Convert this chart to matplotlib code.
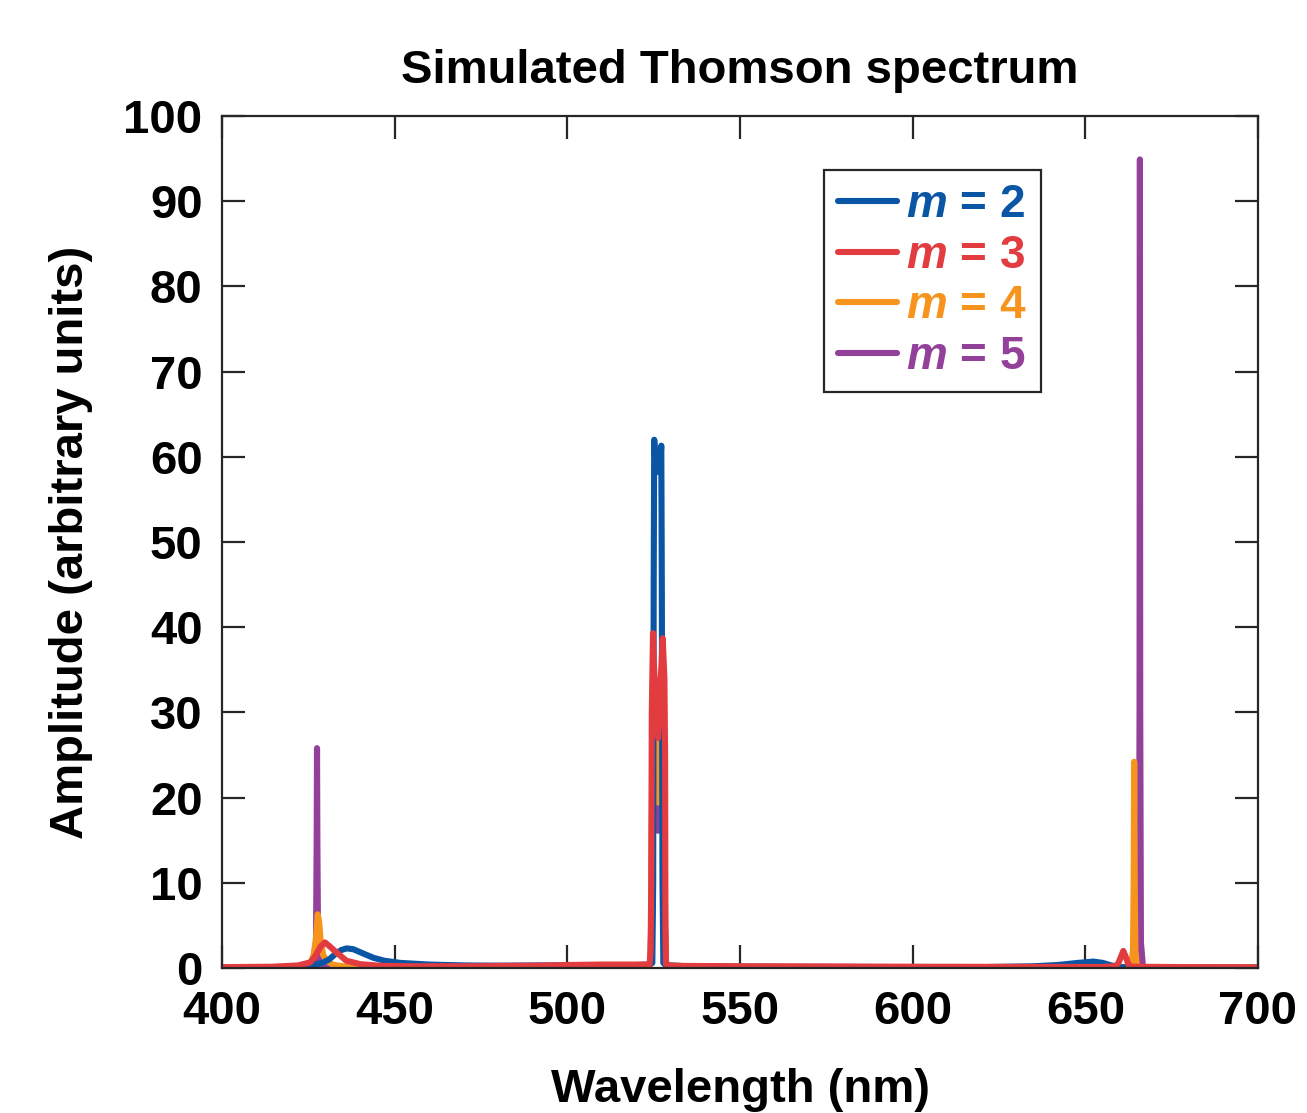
import matplotlib
matplotlib.use('Agg')
import matplotlib.pyplot as plt

plt.rcParams['font.family'] = ['Liberation Sans', 'DejaVu Sans']
plt.rcParams['font.weight'] = 'bold'
plt.rcParams['axes.labelweight'] = 'bold'
plt.rcParams['axes.titleweight'] = 'bold'
plt.rcParams['mathtext.fontset'] = 'custom'
plt.rcParams['mathtext.it'] = 'Liberation Sans:italic:bold'
plt.rcParams['mathtext.rm'] = 'Liberation Sans'

# spectra: wavelength (nm) and amplitude (arb. units)
wl_m2 = [400, 410, 420, 426, 429, 431, 432.7, 434.5, 436.1, 438, 440, 443.8,
         447, 451.5, 460, 470, 480, 500, 510, 520, 523.5, 524.6, 524.85,
         525.0, 525.15, 525.4, 526.2, 527.0, 527.2, 527.35, 527.55, 527.8,
         528.5, 535, 550, 600, 620, 635, 642, 648, 652.3, 655, 657.5, 660,
         670, 700]
amp_m2 = [0.05, 0.08, 0.15, 0.3, 0.6, 1.0, 1.6, 2.1, 2.3, 2.2, 1.85, 1.2,
          0.85, 0.6, 0.4, 0.3, 0.25, 0.25, 0.3, 0.35, 0.4, 0.6, 10,
          45, 62.0, 60, 58.2, 60, 61.3, 45, 10, 0.6,
          0.3, 0.2, 0.15, 0.1, 0.1, 0.2, 0.35, 0.6, 0.75, 0.6, 0.3, 0.1,
          0.05, 0.02]

wl_m3 = [400, 415, 422, 425.5, 427, 428.5, 429.8, 431, 433.2, 436, 440, 446,
         455, 470, 490, 500, 510, 520, 523.8, 524.1, 524.3, 524.45, 524.8,
         525.0, 526.26, 527.3, 527.6, 528.1, 528.3, 528.4, 528.55, 530, 550,
         600, 640, 655, 658.5, 659.5, 660.3, 661.0, 661.7, 662.5, 663.5,
         680, 700]
amp_m3 = [0.1, 0.15, 0.3, 0.65, 1.4, 2.5, 3.0, 2.6, 1.8, 0.85, 0.45, 0.25,
          0.2, 0.2, 0.25, 0.35, 0.4, 0.4, 0.4, 2, 10, 30, 39.3,
          36, 27.0, 36, 38.7, 34, 25, 5, 0.4, 0.25, 0.2,
          0.15, 0.12, 0.12, 0.2, 0.5, 1.3, 2.0, 1.3, 0.4, 0.15,
          0.1, 0.08]

wl_m4 = [400, 420, 424, 425.5, 426.5, 427.2, 427.7, 428.1, 428.6, 429.3,
         430.5, 432, 435, 440, 480, 505, 520, 524.0, 524.3, 524.5, 525.0,
         526.25, 527.5, 528.1, 528.3, 528.6, 540, 600, 655, 663.2, 663.8,
         664.0, 664.15, 664.3, 664.5, 665, 680, 700]
amp_m4 = [0.05, 0.08, 0.1, 0.4, 1.5, 3.5, 6.3, 5.5, 3.0, 1.5,
          0.8, 0.4, 0.2, 0.15, 0.15, 0.25, 0.3, 0.3, 5, 20, 30,
          19.4, 30, 20, 5, 0.3, 0.15, 0.1, 0.1, 0.1, 2,
          10, 24.2, 10, 2, 0.1, 0.05, 0.05]

wl_m5 = [400, 420, 426.0, 426.8, 427.2, 427.4, 427.5, 427.6, 427.8, 428.2,
         429, 450, 490, 505, 520, 524.0, 524.3, 524.5, 525.0, 526.25, 527.5,
         528.1, 528.3, 528.6, 540, 600, 660, 664.9, 665.5, 665.7, 665.8,
         665.9, 666.1, 666.7, 680, 700]
amp_m5 = [0.05, 0.08, 0.1, 0.4, 3, 15, 25.8, 15, 3, 0.4,
          0.1, 0.15, 0.3, 0.3, 0.3, 0.3, 5, 18, 26, 16.1, 26,
          18, 5, 0.3, 0.1, 0.08, 0.08, 0.1, 3, 30, 94.9,
          30, 3, 0.1, 0.05, 0.05]

series = [(wl_m2, amp_m2, '#0B55A5', 3, r'$m$ = 2'),
          (wl_m3, amp_m3, '#E23B40', 4, r'$m$ = 3'),
          (wl_m4, amp_m4, '#F7941D', 2, r'$m$ = 4'),
          (wl_m5, amp_m5, '#93409A', 1, r'$m$ = 5')]

fig = plt.figure(figsize=(13.07, 11.13), dpi=100)
ax = fig.add_axes([0.1699, 0.1303, 0.7926, 0.7655])

for wl, amp, col, z, lab in series:
    ax.plot(wl, amp, color=col, lw=4.4, zorder=z, label=lab,
            solid_joinstyle='round', solid_capstyle='round')

ax.set_xlim(400, 700)
ax.set_ylim(0, 100)
ax.set_xticks(range(400, 701, 50))
ax.set_yticks(range(0, 101, 10))
ax.tick_params(direction='in', length=16.5, width=1.6, top=True, right=True,
               labelsize=34, pad=14, color='#262626')
ax.tick_params(axis='x', pad=16)
for sp in ax.spines.values():
    sp.set_linewidth(1.6)
    sp.set_color('#262626')
    sp.set_zorder(10)

ax.set_xlabel('Wavelength (nm)', fontsize=34, labelpad=24)
ax.set_ylabel('Amplitude (arbitrary units)', fontsize=34, labelpad=22)
ax.set_title('Simulated Thomson spectrum', fontsize=34, pad=24)

leg = ax.legend(loc='upper left', bbox_to_anchor=(0.581, 0.937), fontsize=33,
                handlelength=1.3, handletextpad=0.2, labelspacing=0.14,
                borderpad=0.3, borderaxespad=0, fancybox=False,
                edgecolor='#262626', framealpha=1)
leg.get_frame().set_linewidth(1.6)
for txt, ln in zip(leg.get_texts(), leg.get_lines()):
    txt.set_color(ln.get_color())

fig.savefig('out.png', dpi=100)
